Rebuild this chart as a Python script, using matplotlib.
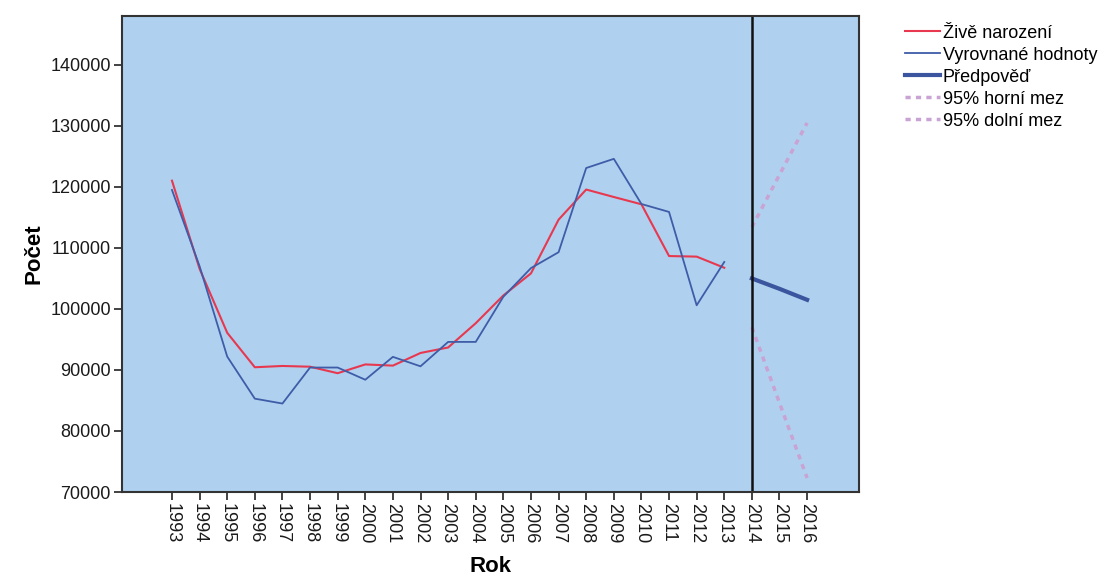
import matplotlib
matplotlib.use("Agg")
import matplotlib.pyplot as plt

plt.rcParams['font.family'] = ['Liberation Sans', 'DejaVu Sans']

years = list(range(1993, 2014))
births = [121025, 106579, 96097, 90446, 90657, 90535, 89471, 90910, 90715, 92786,
          93685, 97664, 102211, 105831, 114632, 119570, 118348, 117153, 108673, 108576, 106751]
fitted = [119500, 107000, 92200, 85300, 84500, 90400, 90400, 88400, 92150, 90600,
          94600, 94600, 102000, 106700, 109300, 123100, 124600, 117200, 115900, 100600, 107700]
fc_years = [2014, 2015, 2016]
forecast = [105000, 103300, 101500]
upper = [113400, 122000, 130500]
lower = [97000, 84600, 72300]
tick_years = list(range(1993, 2017))
yticks = [70000, 80000, 90000, 100000, 110000, 120000, 130000, 140000]

fig = plt.figure(figsize=(11.05, 5.84), dpi=100)
ax = fig.add_axes([0.1104, 0.1575, 0.667, 0.815])
ax.set_facecolor('#AFD1EF')

ax.plot(years, births, color='#E8384F', lw=1.5, label='Živě narození')
ax.plot(years, fitted, color='#3E5CA8', lw=1.3, label='Vyrovnané hodnoty')
ax.plot(fc_years, forecast, color='#3B559E', lw=3, label='Předpověď')
ax.plot(fc_years, upper, color='#C9A3D3', lw=2.5, ls=(0, (1.5, 1.5)), label='95% horní mez')
ax.plot(fc_years, lower, color='#C9A3D3', lw=2.5, ls=(0, (1.5, 1.5)), label='95% dolní mez')
ax.axvline(2014, color='#111111', lw=1.8)

ax.set_xlim(1991.19, 2017.88)
ax.set_ylim(70000, 148000)
ax.set_yticks(yticks)
ax.set_yticklabels([str(v) for v in yticks], fontsize=13, color='#1a1a1a')
ax.set_xticks(tick_years)
ax.set_xticklabels([str(y) for y in tick_years], rotation=270, fontsize=13, color='#1a1a1a')
ax.tick_params(axis='both', direction='out', length=6, width=1.2, color='#222222', pad=2)
for s in ax.spines.values():
    s.set_color('#333333')
    s.set_linewidth(1.5)

ax.set_xlabel('Rok', fontsize=16, fontweight='bold', labelpad=9)
ax.set_ylabel('Počet', fontsize=16, fontweight='bold', labelpad=4)

fig.legend(loc='upper left', bbox_to_anchor=(0.819, 0.958), frameon=False,
           fontsize=13, handlelength=1.95, handletextpad=0.15, labelspacing=0.28,
           borderaxespad=0, borderpad=0)

fig.savefig('out.png', dpi=100)
